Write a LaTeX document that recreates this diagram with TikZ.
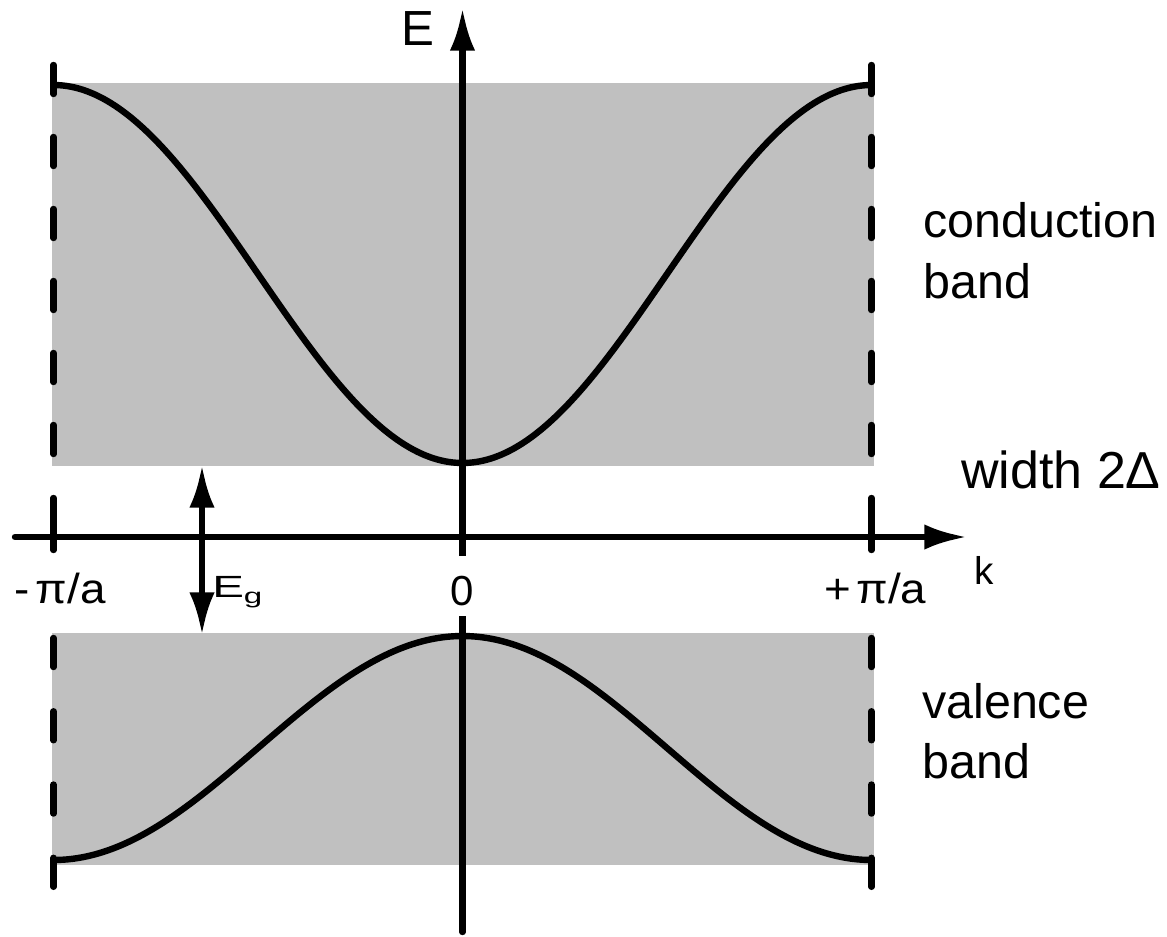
\documentclass[tikz,border=0pt]{standalone}
\usepackage{fontspec}
\setmainfont{Liberation Sans}
\usetikzlibrary{arrows.meta}
\definecolor{bandgray}{RGB}{192,192,192}
\begin{document}
\begin{tikzpicture}[x=0.75pt,y=-0.75pt,
  thickline/.style={line width=4.8pt,line cap=round,black},
  bigtip/.style={-{Latex[length=32pt,width=19pt]}},
  dashseg/.style={thickline,dash pattern=on 21.75pt off 32.25pt},
  dashsegb/.style={thickline,dash pattern=on 21.75pt off 33.2pt},
  lbl/.style={inner sep=0pt,anchor=base west},
  big/.style={font=\fontsize{36.3}{40}\selectfont},
  tick/.style={font=\fontsize{31.5}{36}\selectfont}]
\useasboundingbox (0,0) rectangle (1167,936);
% bands
\fill[bandgray] (52,83) rectangle (874,466);
\fill[bandgray] (52,633) rectangle (874,865);
% dashed zone borders
\foreach \xx in {53.5,871.5}{
  \draw[dashseg] (\xx,65) -- (\xx,456);
  \draw[thickline] (\xx,498) -- (\xx,550);
  \draw[dashsegb] (\xx,638) -- (\xx,888);
}
% bands
\draw[thickline,line cap=butt] plot[domain=53.5:871.5,samples=120,smooth] (\x,{274+189*cos(0.440098*(\x-462.5))});
\draw[thickline,line cap=butt] plot[domain=53.5:871.5,samples=120,smooth] (\x,{748-112*cos(0.440098*(\x-462.5))});
% axes
\coordinate (Ebot) at (462.5,932);
\coordinate (Etop) at (462.5,8);
\coordinate (kleft) at (15,537);
\coordinate (kright) at (967,537);
\draw[thickline,bigtip] (Ebot) -- (Etop);
\draw[thickline,bigtip] (kleft) -- (kright);
% gap arrow
\coordinate (gtop) at (202,465);
\coordinate (gbot) at (202,635);
\draw[thickline,{Latex[length=32pt,width=19pt]}-{Latex[length=32pt,width=19pt]}] (gbot) -- (gtop);
% labels
\node[lbl,font=\fontsize{37}{40}\selectfont] (Elab) at (401,45) {E};
\node[lbl,big] (cb1) at (923,237) {conduction};
\node[lbl,big] (cb2) at (923,298) {band};
\node[lbl,big] (vb1) at (922,718) {valence};
\node[lbl,big] (vb2) at (922,778) {band};
\node[lbl,font=\fontsize{39}{42}\selectfont] (wid) at (961,488) {width 2Δ};
\node[lbl,tick] (mpa) at (14,603) {\scalebox{1.09}[1]{-\hspace{0.14em}π/a}};
\node[anchor=base,tick,fill=white,inner xsep=4pt,inner ysep=0pt,text height=36.5pt,text depth=8.5pt] (zero) at (462.5,605) {0};
\node[lbl,tick] (ppa) at (824,603) {\scalebox{1.09}[1]{+\hspace{0.12em}π/a}};
\node[lbl,font=\fontsize{29}{32}\selectfont] (klab) at (974,584) {k};
\node[lbl,font=\fontsize{23}{26}\selectfont] (eg) at (212,597) {\scalebox{1.55}[1]{E\raisebox{-0.4ex}{\fontsize{16}{18}\selectfont g}}};
\end{tikzpicture}
\end{document}
